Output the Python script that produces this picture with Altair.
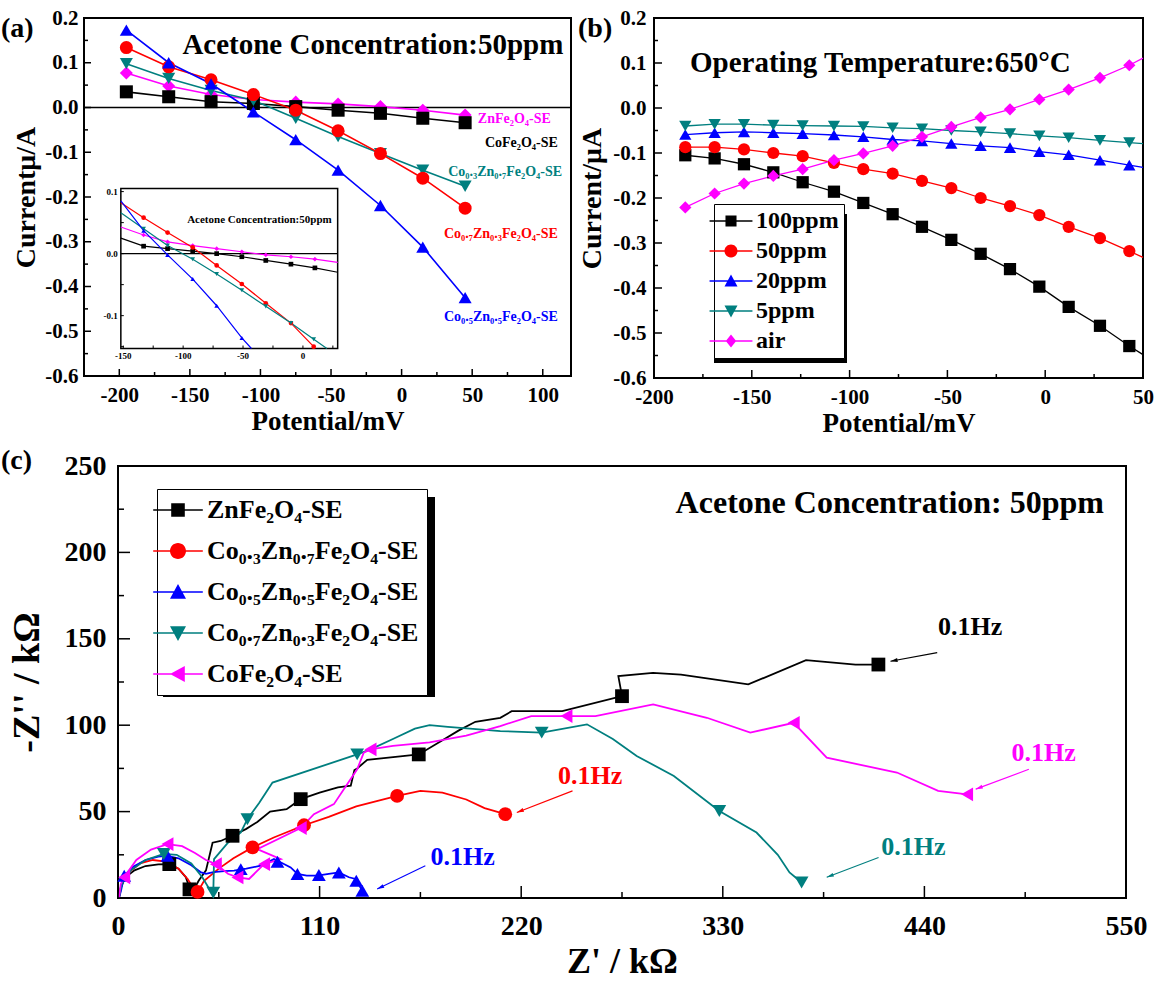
import math
import altair as alt
import pandas as pd

FONT = "Liberation Serif"
BLACK, RED, BLUE, TEAL, MAGENTA = "#000000", "#FF0000", "#0000FF", "#007F7F", "#FF00FF"

# ---------------- panel (a): I-V curves of the five sensing electrodes ----------------
A_POTENTIAL = [-195, -165, -135, -105, -75, -45, -15, 15, 45]
A_ZNFE = [0.077, 0.048, 0.029, 0.018, 0.012, 0.008, 0.002, -0.006, -0.017]
A_COFE = [0.035, 0.024, 0.013, 0.009, 0.002, -0.006, -0.013, -0.024, -0.034]
A_CO03 = [0.098, 0.065, 0.038, 0.016, -0.024, -0.065, -0.103, -0.140, -0.176]
A_CO07 = [0.134, 0.091, 0.062, 0.029, -0.006, -0.052, -0.103, -0.158, -0.225]
A_CO05 = [0.173, 0.100, 0.053, -0.010, -0.072, -0.140, -0.219, -0.312, -0.425]
A_NAMES = ["ZnFe₂O₄-SE", "CoFe₂O₄-SE", "Co₀.₃Zn₀.₇Fe₂O₄-SE", "Co₀.₇Zn₀.₃Fe₂O₄-SE", "Co₀.₅Zn₀.₅Fe₂O₄-SE"]
A_COLORS = [MAGENTA, BLACK, TEAL, RED, BLUE]
A_SHAPES = ["diamond", "square", "triangle-down", "circle", "triangle-up"]
A_LABEL_X = [54, 59, 33, 30, 30]
A_LABEL_Y = [-0.025, -0.080, -0.145, -0.282, -0.469]

# inset of (a)
IN_BLACK_X = [-152, -133, -113, -92, -72, -51, -31, -10, 10, 29]
IN_BLACK_Y = [0.025, 0.012, 0.008, 0.004, 0.0, -0.005, -0.011, -0.017, -0.023, -0.030]
IN_MAG_X = [-152, -133, -113, -92, -72, -51, -31, -10, 10, 29]
IN_MAG_Y = [0.043, 0.030, 0.019, 0.013, 0.008, 0.003, -0.002, -0.005, -0.009, -0.014]
IN_RED_X = [-152, -133, -113, -92, -72, -51, -31, -10, 9]
IN_RED_Y = [0.082, 0.058, 0.034, 0.010, -0.019, -0.049, -0.080, -0.112, -0.150]
IN_TEAL_X = [-152, -133, -113, -92, -72, -51, -31, -10, 9, 20]
IN_TEAL_Y = [0.066, 0.040, 0.013, -0.009, -0.033, -0.059, -0.085, -0.112, -0.138, -0.153]
IN_BLUE_X = [-152, -133, -113, -92, -72, -51, -43]
IN_BLUE_Y = [0.085, 0.037, -0.002, -0.041, -0.084, -0.136, -0.153]
INSET_BOX_X = [-198.9, -45.3]
INSET_BOX_Y = [-0.5386, -0.181]
INSET_DOM_X = [-152, 29]
INSET_DOM_Y = [-0.153, 0.105]
INSET_XLAB = [-150, -100, -50, 0]
INSET_YLAB = [-0.1, 0.0, 0.1]
INSET_XTICK = [-150, -125, -100, -75, -50, -25, 0, 25]
INSET_YTICK = [-0.15, -0.1, -0.05, 0.0, 0.05, 0.1]

# ---------------- panel (b): I-V curves at various acetone levels ----------------
B_POTENTIAL = [-184, -169, -154, -139, -124, -108, -93, -78, -63, -48, -33, -18, -3, 12, 28, 43]
B_100 = [-0.105, -0.112, -0.125, -0.143, -0.165, -0.186, -0.211, -0.236, -0.264, -0.293, -0.324, -0.358, -0.397, -0.442, -0.484, -0.529]
B_50 = [-0.087, -0.087, -0.092, -0.100, -0.107, -0.122, -0.136, -0.146, -0.162, -0.178, -0.200, -0.218, -0.238, -0.264, -0.289, -0.318]
B_20 = [-0.059, -0.055, -0.053, -0.055, -0.057, -0.060, -0.064, -0.070, -0.073, -0.079, -0.084, -0.088, -0.097, -0.104, -0.116, -0.127]
B_5 = [-0.040, -0.036, -0.036, -0.038, -0.039, -0.040, -0.041, -0.044, -0.046, -0.050, -0.053, -0.057, -0.062, -0.066, -0.072, -0.077]
B_AIR = [-0.221, -0.190, -0.168, -0.151, -0.136, -0.116, -0.101, -0.084, -0.064, -0.042, -0.021, -0.003, 0.019, 0.041, 0.067, 0.095]
B_EDGE_X = 50
B_EDGE_Y = [-0.548, -0.332, -0.132, -0.079, 0.111]
B_NAMES = ["100ppm", "50ppm", "20ppm", "5ppm", "air"]
B_COLORS = [BLACK, RED, BLUE, TEAL, MAGENTA]
B_SHAPES = ["square", "circle", "triangle-up", "triangle-down", "diamond"]

# ---------------- panel (c): Nyquist plots ----------------
C_NAMES = ["ZnFe₂O₄-SE", "Co₀.₃Zn₀.₇Fe₂O₄-SE", "Co₀.₅Zn₀.₅Fe₂O₄-SE", "Co₀.₇Zn₀.₃Fe₂O₄-SE", "CoFe₂O₄-SE"]
C_COLORS = [BLACK, RED, BLUE, TEAL, MAGENTA]
C_SHAPES = ["square", "circle", "triangle-up", "triangle-down", "triangle-left"]

C_ZN_X = [0.5, 1.5, 4, 9, 15, 22, 28, 33, 37, 39, 41, 44, 48, 51.6, 56, 62.5, 70, 76, 83, 92, 99.7, 110, 120, 127, 129, 130.5, 136, 154, 164.1, 175, 186, 195, 208.6, 214.8, 242.4, 275, 273, 291.9, 307.2, 343.9, 375.4, 402.4, 414.9]
C_ZN_Y = [0, 6, 12, 16, 18.5, 19.5, 19.6, 17, 12, 6, 4, 10, 16, 32, 33, 36, 40, 44, 50, 51.4, 57.2, 61, 64, 65, 74, 75, 80, 82, 83.1, 90, 97, 102, 104.3, 108.1, 108.1, 116.8, 128.4, 130.3, 129.3, 123.6, 137.6, 135.1, 135.1]
C_ZN_MX = [28, 39, 62.5, 99.7, 164.1, 275, 414.9]
C_ZN_MY = [19.6, 5, 36, 57.2, 83.1, 116.8, 135.1]

C_C03_X = [0.5, 2, 6, 12, 19, 26, 33, 38, 41, 43.4, 47, 55, 63, 73.4, 85, 101.5, 115, 130, 152.3, 165, 177, 190, 200, 211.3]
C_C03_Y = [0, 8, 15, 20, 22, 21, 17, 11, 6, 3.5, 10, 17, 23, 29.3, 35, 42.1, 47, 53, 59.1, 62, 61, 57, 52, 48.5]
C_C03_MX = [43.4, 73.4, 101.5, 152.3, 211.3]
C_C03_MY = [3.5, 29.3, 42.1, 59.1, 48.5]

C_C05_X = [0.5, 1.6, 3.4, 8, 15, 22, 27, 33, 40, 45, 48, 52, 58, 63.3, 70, 77.9, 85.1, 90, 94.2, 97.9, 103, 108.8, 115, 120.5, 126, 129.6, 133.3]
C_C05_Y = [0, 4, 12.9, 18, 22, 24, 24.4, 23, 19, 15, 14, 15, 15.5, 15.8, 17, 18.7, 22.5, 20, 17.7, 13.9, 13, 12.9, 14, 14.8, 12, 11, 4.2]
C_C05_MX = [3.4, 27, 67, 87, 97.9, 109.6, 120.5, 130, 133.3]
C_C05_MY = [12.9, 24.4, 16.7, 21, 13.9, 13.3, 14.8, 10, 4.2]

C_C07_X = [0.5, 2, 7, 15, 25, 32, 40, 46, 50, 52, 52.4, 60, 67, 70.6, 77, 84.3, 130.5, 137.8, 150, 162, 170, 180, 192, 208.6, 231.2, 255.9, 270, 283, 303.3, 328.1, 348.4, 360, 366.4, 373]
C_C07_Y = [0, 8, 16, 22, 25.5, 25, 20, 12, 5, 3, 22.5, 32, 38, 45.6, 55, 66.8, 83.1, 86, 92, 98, 100, 99, 98, 96.6, 95.7, 100.5, 92, 82.2, 70.6, 50.4, 37.9, 25, 14.8, 9]
C_C07_MX = [25, 52, 70.6, 130.5, 231.2, 328.1, 373]
C_C07_MY = [25.5, 3, 45.6, 83.1, 95.7, 50.4, 9]

C_CO_X = [0.5, 1.5, 3.4, 10, 18, 27, 35, 42, 48, 53.4, 60, 65.2, 71.5, 79.7, 88.8, 76, 99.7, 106.9, 117.8, 130.5, 134.1, 137.8, 150, 170, 190, 208.6, 225.5, 244.7, 260.5, 292, 321.3, 345, 368.7, 386.7, 425, 447.5, 463.3]
C_CO_Y = [0, 8, 12, 22, 28, 31.2, 30, 26, 22, 19.6, 14, 11.9, 11, 19.6, 22.5, 28.3, 40.5, 48.5, 54.3, 74.5, 84.1, 86, 88, 90, 94, 99.5, 105.3, 105.3, 105.3, 112, 104.3, 95.7, 101.4, 81.2, 72.6, 62, 60]
C_CO_MX = [3.4, 27, 53.4, 65.2, 79.7, 99.7, 137.8, 244.7, 368.7, 463.3]
C_CO_MY = [12, 31.2, 19.6, 11.9, 19.6, 40.5, 86, 105.3, 101.4, 60]

ARROW_SERIES = ["ZnFe₂O₄-SE", "CoFe₂O₄-SE", "Co₀.₇Zn₀.₃Fe₂O₄-SE", "Co₀.₃Zn₀.₇Fe₂O₄-SE", "Co₀.₅Zn₀.₅Fe₂O₄-SE"]
ARROW_TEXT_X = [465, 505, 434, 257.6, 188]
ARROW_TEXT_Y = [157, 84, 29.4, 70.6, 23.7]
ARROW_TAIL_X = [447, 497, 415, 248, 167.7]
ARROW_TAIL_Y = [142, 74.5, 23.5, 62, 18.7]
ARROW_HEAD_X = [421.5, 468, 386.7, 217.6, 141.4]
ARROW_HEAD_Y = [137, 63, 12, 49.5, 5.2]

# ---------------- sizes ----------------
A_W, A_H = 487, 358
B_W, B_H = 489, 360
C_W, C_H = 1008, 432
C_SHIFT = 34


def minus_expr(fmt):
    return f"replace(format(datum.value, '{fmt}'), '\u2212', '-')"


def axis(values, fmt, lsize, lpad, title, tsize, tpad):
    return alt.Axis(values=values, labelExpr=minus_expr(fmt), ticks=False, domain=False, grid=False,
                    labelFont=FONT, labelFontWeight="bold", labelFontSize=lsize, labelPadding=lpad,
                    labelColor="black", labelFlush=False, labelOverlap=False,
                    title=title, titleFont=FONT, titleFontWeight="bold", titleFontSize=tsize,
                    titlePadding=tpad, titleColor="black")


def leg_path(base, half=3.0, t=0.1):
    return f"M{-half},{-t}H{half}V{t}H{-half}Z" + base


PATHS = {
    "square": "M-0.85,-0.85H0.85V0.85H-0.85Z",
    "circle": "M1,0A1,1 0 1,1 -1,0A1,1 0 1,1 1,0Z",
    "triangle-up": "M0,-1L1,0.85H-1Z",
    "triangle-down": "M-1,-0.85H1L0,1Z",
    "diamond": "M0,-1L0.8,0L0,1L-0.8,0Z",
    "triangle-left": "M-1,0L0.85,-1V1Z",
}


def long_df(names, xs, ys):
    rows = []
    for n, x_list, y_list in zip(names, xs, ys):
        for i, (x, y) in enumerate(zip(x_list, y_list)):
            rows.append({"s": n, "x": x, "y": y, "i": i})
    return pd.DataFrame(rows)


def legend(x, y, size, fsize, rowpad, pad, loff):
    return alt.Legend(orient="none", legendX=x, legendY=y, title=None, labelFont=FONT,
                      labelFontWeight="bold", labelFontSize=fsize, labelColor="black", labelLimit=0,
                      symbolSize=size, symbolStrokeWidth=0, symbolOpacity=1, rowPadding=rowpad,
                      padding=pad, labelOffset=loff, strokeColor="black", fillColor="white")


def shadow(x0, x1, y0, y1):
    """Dark drop shadow drawn behind a legend box (pixel offsets within the panel)."""
    return alt.Chart(pd.DataFrame({"v": [0]})).mark_rect(color="black").encode(
        x=alt.value(x0), x2=alt.value(x1), y=alt.value(y0), y2=alt.value(y1))


class Panel:
    """Holds the shared scales and axes of one panel so every layer uses the same ones."""

    def __init__(self, xs, ys, ax, ay):
        self.xs, self.ys, self.ax, self.ay = xs, ys, ax, ay

    def X(self, f):
        return alt.X(f, scale=self.xs, axis=self.ax)

    def Y(self, f):
        return alt.Y(f, scale=self.ys, axis=self.ay)

    def xticks(self, vals, length, H, sw=1.5):
        return alt.Chart(pd.DataFrame({"v": vals})).mark_rule(color="black", strokeWidth=sw).encode(
            x=self.X("v:Q"), y=alt.value(H), y2=alt.value(H - length))

    def yticks(self, vals, length, sw=1.5):
        return alt.Chart(pd.DataFrame({"v": vals})).mark_rule(color="black", strokeWidth=sw).encode(
            y=self.Y("v:Q"), x=alt.value(0), x2=alt.value(length))


def panel_label(text, dx, dy, size=28):
    return alt.Chart(pd.DataFrame({"t": [text]})).mark_text(
        font=FONT, fontWeight="bold", fontSize=size, align="left", baseline="middle", color="black"
    ).encode(text="t:N", x=alt.value(dx), y=alt.value(dy))


# ================= panel (a) =================
pa = Panel(alt.Scale(domain=[-225, 120], nice=False, zero=False),
           alt.Scale(domain=[-0.6, 0.2], nice=False, zero=False),
           axis([-200, -150, -100, -50, 0, 50, 100], "d", 21, 8, "Potential/mV", 27, 3),
           axis([-0.6, -0.5, -0.4, -0.3, -0.2, -0.1, 0.0, 0.1, 0.2], ".1f", 21, 6, "Currentμ/A", 28, 4))
col_a = alt.Scale(domain=A_NAMES, range=A_COLORS)
shp_a = alt.Scale(domain=A_NAMES, range=A_SHAPES)

df_a = long_df(A_NAMES, [A_POTENTIAL] * 5, [A_ZNFE, A_COFE, A_CO03, A_CO07, A_CO05])

zero_a = alt.Chart(pd.DataFrame({"y": [0.0]})).mark_rule(color="black", strokeWidth=1.5).encode(y=pa.Y("y:Q"))
lines_a = alt.Chart(df_a).mark_line(strokeWidth=1.6).encode(
    x=pa.X("x:Q"), y=pa.Y("y:Q"), color=alt.Color("s:N", scale=col_a, legend=None), detail="s:N")
pts_a = alt.Chart(df_a).mark_point(filled=True, opacity=1, size=170).encode(
    x=pa.X("x:Q"), y=pa.Y("y:Q"),
    color=alt.Color("s:N", scale=col_a, legend=None), shape=alt.Shape("s:N", scale=shp_a, legend=None))
labels_a = alt.Chart(pd.DataFrame({"s": A_NAMES, "x": A_LABEL_X, "y": A_LABEL_Y})).mark_text(
    font=FONT, fontWeight="bold", fontSize=14, align="left", baseline="middle").encode(
    x=pa.X("x:Q"), y=pa.Y("y:Q"), text="s:N", color=alt.Color("s:N", scale=col_a, legend=None))
title_a = alt.Chart(pd.DataFrame({"t": ["Acetone Concentration:50ppm"], "x": [114.6], "y": [0.139]})).mark_text(
    font=FONT, fontWeight="bold", fontSize=29, align="right", baseline="middle", color="black").encode(
    x=pa.X("x:Q"), y=pa.Y("y:Q"), text="t:N")

# inset: inset coordinates mapped into the panel's own scale
kx = (INSET_BOX_X[1] - INSET_BOX_X[0]) / (INSET_DOM_X[1] - INSET_DOM_X[0])
ky = (INSET_BOX_Y[1] - INSET_BOX_Y[0]) / (INSET_DOM_Y[1] - INSET_DOM_Y[0])
EX = lambda f: f"{INSET_BOX_X[0]} + ({f} - ({INSET_DOM_X[0]})) * {kx}"
EY = lambda f: f"{INSET_BOX_Y[0]} + ({f} - ({INSET_DOM_Y[0]})) * {ky}"

df_in = long_df([A_NAMES[1], A_NAMES[0], A_NAMES[3], A_NAMES[2], A_NAMES[4]],
                [IN_BLACK_X, IN_MAG_X, IN_RED_X, IN_TEAL_X, IN_BLUE_X],
                [IN_BLACK_Y, IN_MAG_Y, IN_RED_Y, IN_TEAL_Y, IN_BLUE_Y])
df_in_m = df_in[(df_in.x > INSET_DOM_X[0]) & (df_in.y > INSET_DOM_Y[0]) & (df_in.x < 25)]
in_lines = alt.Chart(df_in).transform_calculate(X=EX("datum.x"), Y=EY("datum.y")).mark_line(strokeWidth=1.2).encode(
    x=pa.X("X:Q"), y=pa.Y("Y:Q"), color=alt.Color("s:N", scale=col_a, legend=None), detail="s:N")
in_pts = alt.Chart(df_in_m).transform_calculate(X=EX("datum.x"), Y=EY("datum.y")).mark_point(filled=True, opacity=1, size=22).encode(
    x=pa.X("X:Q"), y=pa.Y("Y:Q"),
    color=alt.Color("s:N", scale=col_a, legend=None), shape=alt.Shape("s:N", scale=shp_a, legend=None))
in_frame = alt.Chart(pd.DataFrame({"x0": [INSET_BOX_X[0]], "x1": [INSET_BOX_X[1]], "y0": [INSET_BOX_Y[0]], "y1": [INSET_BOX_Y[1]]})).mark_rect(
    filled=False, stroke="black", strokeWidth=1.5).encode(x=pa.X("x0:Q"), x2="x1", y=pa.Y("y0:Q"), y2="y1")
in_zero = alt.Chart(pd.DataFrame({"v": [0.0]})).transform_calculate(
    X0=str(INSET_BOX_X[0]), X1=str(INSET_BOX_X[1]), Y=EY("datum.v")).mark_rule(color="black", strokeWidth=1.2).encode(
    x=pa.X("X0:Q"), x2="X1:Q", y=pa.Y("Y:Q"))
in_xt = alt.Chart(pd.DataFrame({"v": INSET_XTICK})).transform_calculate(
    X=EX("datum.v"), Y0=str(INSET_BOX_Y[0]), Y1=f"{INSET_BOX_Y[0]} + {3 / (A_H / 0.8)}").mark_rule(color="black", strokeWidth=1).encode(
    x=pa.X("X:Q"), y=pa.Y("Y0:Q"), y2="Y1:Q")
in_yt = alt.Chart(pd.DataFrame({"v": INSET_YTICK})).transform_calculate(
    Y=EY("datum.v"), X0=str(INSET_BOX_X[0]), X1=f"{INSET_BOX_X[0]} + {3 / (A_W / 345)}").mark_rule(color="black", strokeWidth=1).encode(
    y=pa.Y("Y:Q"), x=pa.X("X0:Q"), x2="X1:Q")
in_xl = alt.Chart(pd.DataFrame({"v": INSET_XLAB, "t": [str(v) for v in INSET_XLAB]})).transform_calculate(
    X=EX("datum.v"), Y=str(INSET_BOX_Y[0])).mark_text(font=FONT, fontWeight="bold", fontSize=9, baseline="top", dy=3, color="black").encode(
    x=pa.X("X:Q"), y=pa.Y("Y:Q"), text="t:N")
in_yl = alt.Chart(pd.DataFrame({"v": INSET_YLAB, "t": [f"{v:.1f}" for v in INSET_YLAB]})).transform_calculate(
    Y=EY("datum.v"), X=str(INSET_BOX_X[0])).mark_text(font=FONT, fontWeight="bold", fontSize=9, align="right", dx=-3, baseline="middle", color="black").encode(
    x=pa.X("X:Q"), y=pa.Y("Y:Q"), text="t:N")
in_title = alt.Chart(pd.DataFrame({"t": ["Acetone Concentration:50ppm"], "x": [24], "y": [0.055]})).transform_calculate(
    X=EX("datum.x"), Y=EY("datum.y")).mark_text(font=FONT, fontWeight="bold", fontSize=11, align="right", baseline="middle", color="black").encode(
    x=pa.X("X:Q"), y=pa.Y("Y:Q"), text="t:N")

chart_a = alt.layer(
    zero_a, lines_a, pts_a, labels_a, title_a,
    in_frame, in_zero, in_lines, in_pts, in_xt, in_yt, in_xl, in_yl, in_title,
    pa.xticks([-200, -150, -100, -50, 0, 50, 100], 7, A_H), pa.xticks([-175, -125, -75, -25, 25, 75], 4, A_H),
    pa.yticks([-0.6, -0.5, -0.4, -0.3, -0.2, -0.1, 0.0, 0.1, 0.2], 7), pa.yticks([-0.55, -0.45, -0.35, -0.25, -0.15, -0.05, 0.05, 0.15], 4),
    panel_label("(a)", -83, 11),
).properties(width=A_W, height=A_H)

# ================= panel (b) =================
pb = Panel(alt.Scale(domain=[-200, 50], nice=False, zero=False),
           alt.Scale(domain=[-0.6, 0.2], nice=False, zero=False),
           axis([-200, -150, -100, -50, 0, 50], "d", 21, 8, "Potential/mV", 27, 3),
           axis([-0.6, -0.5, -0.4, -0.3, -0.2, -0.1, 0.0, 0.1, 0.2], ".1f", 21, 8, "Current/μA", 28, 6))
col_b = alt.Scale(domain=B_NAMES, range=B_COLORS)
shp_b = alt.Scale(domain=B_NAMES, range=B_SHAPES)
B_SERIES = [B_100, B_50, B_20, B_5, B_AIR]
df_b_pts = long_df(B_NAMES, [B_POTENTIAL] * 5, B_SERIES)
df_b_line = long_df(B_NAMES, [B_POTENTIAL + [B_EDGE_X]] * 5, [s + [e] for s, e in zip(B_SERIES, B_EDGE_Y)])

lines_b = alt.Chart(df_b_line).mark_line(strokeWidth=1.3).encode(
    x=pb.X("x:Q"), y=pb.Y("y:Q"), color=alt.Color("s:N", scale=col_b, legend=None), detail="s:N")
pts_b = alt.Chart(df_b_pts).mark_point(filled=True, opacity=1, size=150).encode(
    x=pb.X("x:Q"), y=pb.Y("y:Q"),
    color=alt.Color("s:N", scale=col_b, legend=None), shape=alt.Shape("s:N", scale=shp_b, legend=None))
title_b = alt.Chart(pd.DataFrame({"t": ["Operating Temperature:650°C"], "x": [-181.6], "y": [0.1]})).mark_text(
    font=FONT, fontWeight="bold", fontSize=29, align="left", baseline="middle", color="black").encode(
    x=pb.X("x:Q"), y=pb.Y("y:Q"), text="t:N")
LEG_B = legend(60, 186, 169, 24, 6, 5, 13)
legend_b = alt.Chart(pd.DataFrame({"s": B_NAMES})).transform_filter("false").mark_point(filled=True, opacity=1, size=169).encode(
    color=alt.Color("s:N", scale=alt.Scale(domain=B_NAMES, range=B_COLORS), legend=LEG_B),
    shape=alt.Shape("s:N", scale=alt.Scale(domain=B_NAMES, range=[leg_path(PATHS[s], 3.3) for s in B_SHAPES]), legend=LEG_B))

chart_b = alt.layer(
    lines_b, pts_b, title_b, shadow(60, 193, 196, 345), legend_b,
    pb.xticks([-200, -150, -100, -50, 0, 50], 8, B_H), pb.xticks([-175, -125, -75, -25, 25], 4, B_H),
    pb.yticks([-0.6, -0.5, -0.4, -0.3, -0.2, -0.1, 0.0, 0.1, 0.2], 8), pb.yticks([-0.55, -0.45, -0.35, -0.25, -0.15, -0.05, 0.05, 0.15], 4),
    panel_label("(b)", -76, 11),
).resolve_scale(color="independent", shape="independent").properties(width=B_W, height=B_H)

# ================= panel (c) =================
pc = Panel(alt.Scale(domain=[0, 550], nice=False, zero=False),
           alt.Scale(domain=[0, 250], nice=False, zero=False),
           axis([0, 110, 220, 330, 440, 550], "d", 28, 14, "Z' / kΩ", 36, 4),
           axis([0, 50, 100, 150, 200, 250], "d", 28, 12, "-Z'' / kΩ", 38, 18))
col_c = alt.Scale(domain=C_NAMES, range=C_COLORS)
shp_c = alt.Scale(domain=C_NAMES, range=C_SHAPES)
df_c = long_df(C_NAMES, [C_ZN_X, C_C03_X, C_C05_X, C_C07_X, C_CO_X], [C_ZN_Y, C_C03_Y, C_C05_Y, C_C07_Y, C_CO_Y])
df_cm = long_df(C_NAMES, [C_ZN_MX, C_C03_MX, C_C05_MX, C_C07_MX, C_CO_MX], [C_ZN_MY, C_C03_MY, C_C05_MY, C_C07_MY, C_CO_MY])

lines_c = alt.Chart(df_c).mark_line(strokeWidth=1.8).encode(
    x=pc.X("x:Q"), y=pc.Y("y:Q"), color=alt.Color("s:N", scale=col_c, legend=None), detail="s:N", order="i:Q")
pts_c = alt.Chart(df_cm).mark_point(filled=True, opacity=1, size=190).encode(
    x=pc.X("x:Q"), y=pc.Y("y:Q"),
    color=alt.Color("s:N", scale=col_c, legend=None), shape=alt.Shape("s:N", scale=shp_c, legend=None))

px_x, px_y = C_W / 550, C_H / 250
ANG = [math.degrees(math.atan2((hx - tx) * px_x, (hy - ty) * px_y)) % 360
       for tx, ty, hx, hy in zip(ARROW_TAIL_X, ARROW_TAIL_Y, ARROW_HEAD_X, ARROW_HEAD_Y)]
df_arrow = pd.DataFrame({"s": ARROW_SERIES, "tx": ARROW_TAIL_X, "ty": ARROW_TAIL_Y, "hx": ARROW_HEAD_X,
                         "hy": ARROW_HEAD_Y, "lx": ARROW_TEXT_X, "ly": ARROW_TEXT_Y, "ang": ANG, "t": ["0.1Hz"] * 5})
arrow_line = alt.Chart(df_arrow).mark_rule(strokeWidth=1.1).encode(
    x=pc.X("tx:Q"), y=pc.Y("ty:Q"), x2="hx:Q", y2="hy:Q", color=alt.Color("s:N", scale=col_c, legend=None))
arrow_head = alt.Chart(df_arrow).mark_point(filled=True, opacity=1, size=50, shape="M0,0L0.55,2L-0.55,2Z").encode(
    x=pc.X("hx:Q"), y=pc.Y("hy:Q"), angle=alt.Angle("ang:Q", scale=None),
    color=alt.Color("s:N", scale=col_c, legend=None))
arrow_text = alt.Chart(df_arrow).mark_text(font=FONT, fontWeight="bold", fontSize=26, baseline="middle").encode(
    x=pc.X("lx:Q"), y=pc.Y("ly:Q"), text="t:N", color=alt.Color("s:N", scale=col_c, legend=None))
title_c = alt.Chart(pd.DataFrame({"t": ["Acetone Concentration: 50ppm"], "x": [538], "y": [228.6]})).mark_text(
    font=FONT, fontWeight="bold", fontSize=32, align="right", baseline="middle", color="black").encode(
    x=pc.X("x:Q"), y=pc.Y("y:Q"), text="t:N")
LEG_C = legend(39, 23, 256, 26, 15, 8, 16)
legend_c = alt.Chart(pd.DataFrame({"s": C_NAMES})).transform_filter("false").mark_point(filled=True, opacity=1, size=256).encode(
    color=alt.Color("s:N", scale=alt.Scale(domain=C_NAMES, range=C_COLORS), legend=LEG_C),
    shape=alt.Shape("s:N", scale=alt.Scale(domain=C_NAMES, range=[leg_path(PATHS[s], 3.1) for s in C_SHAPES]), legend=LEG_C))

chart_c = alt.layer(
    lines_c, pts_c, arrow_line, arrow_head, arrow_text, title_c, shadow(45, 317, 31, 231), legend_c,
    pc.xticks([0, 110, 220, 330, 440, 550], 12, C_H), pc.xticks([55, 165, 275, 385, 495], 6, C_H),
    pc.yticks([0, 50, 100, 150, 200, 250], 12), pc.yticks([25, 75, 125, 175, 225], 6),
    panel_label("(c)", -117, -5),
).resolve_scale(color="independent", shape="independent").properties(width=C_W, height=C_H)

# an empty, frameless spacer that shifts panel (c) to the right of panel (a)'s origin
spacer = alt.Chart(pd.DataFrame({"v": [0]})).mark_point(opacity=0).encode(
    x=alt.value(0), y=alt.value(0)).properties(width=C_SHIFT, height=C_H,
                                               view=alt.ViewBackground(stroke="transparent"))

top_row = alt.hconcat(chart_a, chart_b, spacing=83, bounds="flush").resolve_scale(color="independent", shape="independent")
bottom_row = alt.hconcat(spacer, chart_c, spacing=0, bounds="flush").resolve_scale(color="independent", shape="independent")

chart = alt.concat(top_row, bottom_row, columns=1, spacing=9).resolve_scale(
    color="independent", shape="independent").properties(
    padding={"left": 0, "top": 6, "right": 0, "bottom": 0}
).configure(background="white").configure_view(stroke="black", strokeWidth=2)

chart.save("out.html", embed_options={"renderer": "svg", "actions": False})
